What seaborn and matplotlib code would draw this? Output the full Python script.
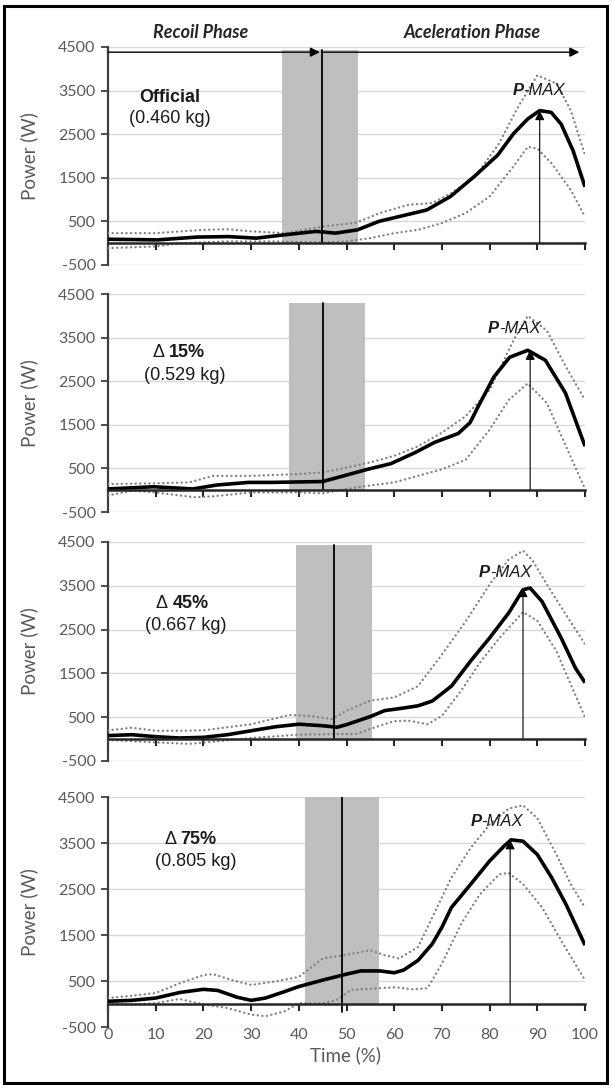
import matplotlib
matplotlib.use("Agg")
import matplotlib.pyplot as plt
import seaborn as sns
from matplotlib.patches import Rectangle

# ---- data ----
# Official ball (0.460 kg)
off_mean_x = [0, 10.4, 18.7, 25.3, 31.1, 36.9, 43.6, 47.7, 52.3, 56.8, 61.8, 66.8, 71.8, 76.8, 81.7, 85, 88, 90.5, 92.9, 95, 97.5, 100]
off_mean_y = [90, 75, 140, 150, 115, 190, 270, 230, 305, 500, 630, 760, 1070, 1530, 2020, 2510, 2850, 3040, 3000, 2730, 2120, 1290]
off_up_x = [0, 10, 20, 25, 30, 37, 45, 52, 57, 63, 68, 72, 77, 82, 86, 90, 94, 97, 100]
off_up_y = [230, 230, 305, 320, 270, 230, 380, 470, 690, 880, 920, 1150, 1530, 2290, 3130, 3850, 3660, 3050, 2020]
off_lo_x = [0, 10, 15, 25, 35, 45, 50, 55, 60, 65, 70, 75, 80, 85, 88, 90, 93, 97, 100]
off_lo_y = [-115, -75, 0, 40, 40, 15, 40, 115, 230, 305, 460, 690, 1070, 1760, 2210, 2170, 1830, 1220, 610]

# +15% (0.529 kg)
p15_mean_x = [0, 9.5, 17.8, 22.8, 29.5, 34.4, 45, 49.4, 54.4, 59.3, 64.3, 68.5, 73.4, 75.9, 77.6, 80.9, 84.2, 88, 91.7, 95.9, 100]
p15_mean_y = [30, 80, 30, 120, 180, 180, 200, 330, 480, 610, 860, 1100, 1300, 1550, 1920, 2600, 3050, 3210, 2980, 2230, 1010]
p15_up_x = [0, 10, 17, 22, 30, 40, 45, 50, 55, 60, 65, 70, 75, 80, 85, 88, 92, 96, 100]
p15_up_y = [140, 160, 180, 330, 330, 370, 410, 520, 640, 790, 1010, 1320, 1700, 2300, 3440, 4000, 3660, 2830, 2070]
p15_lo_x = [0, 5, 10, 18, 22, 30, 40, 45, 50, 55, 60, 65, 70, 75, 80, 84, 88, 92, 96, 100]
p15_lo_y = [-120, -10, -50, -160, -140, -50, -50, -70, 30, 110, 180, 330, 480, 700, 1390, 2070, 2450, 2000, 1010, 30]

# +45% (0.667 kg)
p45_mean_x = [0, 5, 10, 15, 20, 25, 30, 35, 40, 45, 48, 50, 55, 58, 62, 65, 68, 72, 76, 80, 84, 87, 88.5, 91, 95, 98, 100]
p45_mean_y = [80, 100, 55, 25, 40, 100, 190, 280, 340, 305, 270, 330, 515, 650, 710, 760, 870, 1210, 1780, 2310, 2880, 3410, 3450, 3140, 2310, 1620, 1290]
p45_up_x = [0, 5, 10, 15, 20, 30, 38, 42, 47, 50, 55, 60, 65, 70, 75, 80, 84, 87, 89, 92, 96, 100]
p45_up_y = [200, 260, 190, 190, 200, 340, 550, 530, 460, 650, 880, 950, 1210, 1930, 2690, 3530, 4100, 4300, 4080, 3530, 2840, 2170]
p45_lo_x = [0, 10, 17, 22, 30, 40, 47, 52, 56, 60, 63, 67, 70, 74, 78, 82, 87, 90, 94, 97, 100]
p45_lo_y = [-20, -75, -110, -60, 25, 100, 115, 115, 270, 410, 420, 340, 530, 1100, 1750, 2300, 2900, 2700, 2010, 1250, 500]

# +75% (0.805 kg)
p75_mean_x = [0, 5, 10, 15, 20, 23, 27, 30, 33, 37, 40, 45, 50, 53, 57, 60, 62, 65, 68, 70, 72, 76, 80, 83, 84.5, 87, 90, 93, 96, 100]
p75_mean_y = [60, 80, 130, 250, 320, 295, 150, 80, 130, 270, 380, 520, 650, 720, 720, 680, 740, 950, 1310, 1670, 2100, 2600, 3110, 3430, 3570, 3540, 3250, 2750, 2170, 1280]
p75_up_x = [0, 5, 10, 15, 20, 22, 26, 30, 35, 40, 45, 50, 55, 58, 61, 65, 68, 72, 76, 80, 84, 87, 90, 94, 97, 100]
p75_up_y = [130, 180, 240, 450, 630, 650, 520, 415, 490, 590, 990, 1070, 1170, 1060, 990, 1240, 1890, 2750, 3390, 3900, 4250, 4320, 4040, 3250, 2610, 2100]
p75_lo_x = [0, 5, 10, 15, 20, 25, 30, 33, 37, 40, 45, 48, 51, 55, 60, 64, 67, 70, 74, 78, 82, 84, 87, 91, 95, 100]
p75_lo_y = [10, -10, 20, 110, -10, -85, -230, -265, -160, 20, 10, 95, 310, 330, 365, 320, 345, 880, 1740, 2390, 2820, 2850, 2610, 2100, 1380, 520]

# phase transition band, transition line, peak power
band_start = [36.5, 38.0, 39.4, 41.2]
band_end = [52.4, 53.9, 55.3, 56.8]
band_top = [4420, 4290, 4420, 4640]
trans_x = [44.8, 45.1, 47.3, 49.1]
trans_bottom = [0, 0, 0, -170]
pmax_x = [90.5, 88.5, 87.0, 84.3]
pmax_y = [3040, 3210, 3460, 3570]
pmax_label_y = [3500, 3700, 3810, 3960]
pmax_split_x = [87.1, 82.0, 80.1, 78.3]

conditions = ["Official", "15%", "45%", "75%"]
masses = ["(0.460 kg)", "(0.529 kg)", "(0.667 kg)", "(0.805 kg)"]
cond_x = [12.9, 12.7, 13.5, 15.2]
cond_y = [3350, 3150, 3100, 3570]
mass_x = [12.9, 16.0, 16.4, 18.3]
mass_y = [2850, 2640, 2590, 3100]

yticks = [-500, 500, 1500, 2500, 3500, 4500]
xticks = [0, 10, 20, 30, 40, 50, 60, 70, 80, 90, 100]

series = [
    (off_mean_x, off_mean_y, off_up_x, off_up_y, off_lo_x, off_lo_y),
    (p15_mean_x, p15_mean_y, p15_up_x, p15_up_y, p15_lo_x, p15_lo_y),
    (p45_mean_x, p45_mean_y, p45_up_x, p45_up_y, p45_lo_x, p45_lo_y),
    (p75_mean_x, p75_mean_y, p75_up_x, p75_up_y, p75_lo_x, p75_lo_y),
]

sns.set_theme(style="white")
plt.rcParams["font.family"] = ["Lato", "DejaVu Sans"]
plt.rcParams["axes.unicode_minus"] = False

fig = plt.figure(figsize=(6.12, 10.89), dpi=100)

# axes placement (figure fractions)
ax_left, ax_width = 0.1765, 0.7794
ax_bottoms = [0.7567, 0.5298, 0.3012, 0.0569]
ax_heights = [0.2002, 0.2002, 0.2011, 0.2112]

label_gray = "#595959"
arial = ["Liberation Sans", "DejaVu Sans"]

for i, (mx, my, ux, uy, lx, ly) in enumerate(series):
    ax = fig.add_axes([ax_left, ax_bottoms[i], ax_width, ax_heights[i]])
    ax.set_xlim(0, 100)
    ax.set_ylim(-500, 4500)

    # grey transition band and the phase boundary line
    ax.fill_between([band_start[i], band_end[i]], 0, band_top[i], color="#bfbfbf", lw=0, zorder=1)
    ax.plot([trans_x[i], trans_x[i]], [trans_bottom[i], band_top[i]], color="black", lw=1.3, zorder=4)

    # SD bounds (round dots) + mean curve
    dots = dict(color="#808080", lw=1.7, linestyle=(0, (0.05, 1.9)), dash_capstyle="round")
    sns.lineplot(x=ux, y=uy, ax=ax, estimator=None, zorder=3, **dots)
    sns.lineplot(x=lx, y=ly, ax=ax, estimator=None, zorder=3, **dots)
    sns.lineplot(x=mx, y=my, ax=ax, estimator=None, color="black", lw=2.6,
                 solid_joinstyle="round", solid_capstyle="butt", zorder=5)

    # peak power arrow
    ax.annotate("", xy=(pmax_x[i], pmax_y[i]), xytext=(pmax_x[i], 0),
                arrowprops=dict(arrowstyle="-|>", color="black", lw=0.8,
                                mutation_scale=14, shrinkA=0, shrinkB=0), zorder=6)
    ax.text(pmax_split_x[i], pmax_label_y[i], "P", ha="right", va="center",
            fontsize=12, fontweight="bold", fontstyle="italic", family=arial, color="#1a1a1a", zorder=7)
    ax.text(pmax_split_x[i], pmax_label_y[i], "-MAX", ha="left", va="center",
            fontsize=12, fontstyle="italic", family=arial, color="#1a1a1a", zorder=7)

    # condition labels
    if i == 0:
        ax.text(cond_x[i], cond_y[i], conditions[i], ha="center", va="center",
                fontsize=13, fontweight="bold", family=arial, color="#1a1a1a")
    else:
        ax.text(cond_x[i], cond_y[i], "\u0394 ", ha="right", va="center",
                fontsize=13, family=arial, color="#1a1a1a")
        ax.text(cond_x[i], cond_y[i], conditions[i], ha="left", va="center",
                fontsize=13, fontweight="bold", family=arial, color="#1a1a1a")
    ax.text(mass_x[i], mass_y[i], masses[i], ha="center", va="center",
            fontsize=13, family=arial, color="#1a1a1a")

    # Excel-like axes
    ax.set_yticks(yticks)
    ax.set_yticklabels([str(v) for v in yticks])
    ax.set_xticks(xticks)
    ax.grid(axis="y", color="#d9d9d9", lw=1.0)
    ax.grid(axis="x", visible=False)
    ax.set_axisbelow(True)
    for s in ["top", "right"]:
        ax.spines[s].set_visible(False)
    ax.spines["left"].set_color("#404040")
    ax.spines["left"].set_linewidth(1.6)
    ax.spines["bottom"].set_position(("data", 0))
    ax.spines["bottom"].set_color("#262626")
    ax.spines["bottom"].set_linewidth(1.8)
    ax.spines["bottom"].set_zorder(6)
    ax.tick_params(axis="y", direction="out", length=5, width=1.3, color="#404040",
                   labelcolor=label_gray, labelsize=11.5, pad=4, left=True)
    ax.tick_params(axis="x", direction="out", length=5, width=1.5, color="#262626",
                   labelbottom=False, bottom=True)
    ax.set_xlabel("")
    ax.set_ylabel("Power (W)", fontsize=13.5, color=label_gray)
    ax.yaxis.set_label_coords(-0.147, 0.5)

    if i == 0:
        # phase headers and arrows
        ax.text(19.5, 4820, "Recoil Phase", ha="center", va="center", fontsize=13,
                fontweight="bold", fontstyle="italic", color="#262626")
        ax.text(76.3, 4820, "Aceleration Phase", ha="center", va="center", fontsize=13,
                fontweight="bold", fontstyle="italic", color="#262626")
        arr = dict(arrowstyle="-|>", color="black", lw=1.0, mutation_scale=14, shrinkA=0, shrinkB=0)
        ax.annotate("", xy=(trans_x[i] - 0.4, 4380), xytext=(0, 4380), arrowprops=arr)
        ax.annotate("", xy=(98.8, 4380), xytext=(trans_x[i] + 0.4, 4380), arrowprops=arr)

    if i == len(series) - 1:
        for t in xticks:
            ax.text(t, -520, str(t), ha="center", va="top", fontsize=11.5, color=label_gray)
        fig.text(0.565, 1 - 1055 / 1089, "Time (%)", ha="center", va="center",
                 fontsize=13.5, color=label_gray)

# outer frame
fig.add_artist(Rectangle((4 / 612, 1 - 1083 / 1089), 603 / 612, 1077 / 1089,
                         transform=fig.transFigure, fill=False, lw=2.2, ec="black"))

fig.savefig("out.png", dpi=100)
